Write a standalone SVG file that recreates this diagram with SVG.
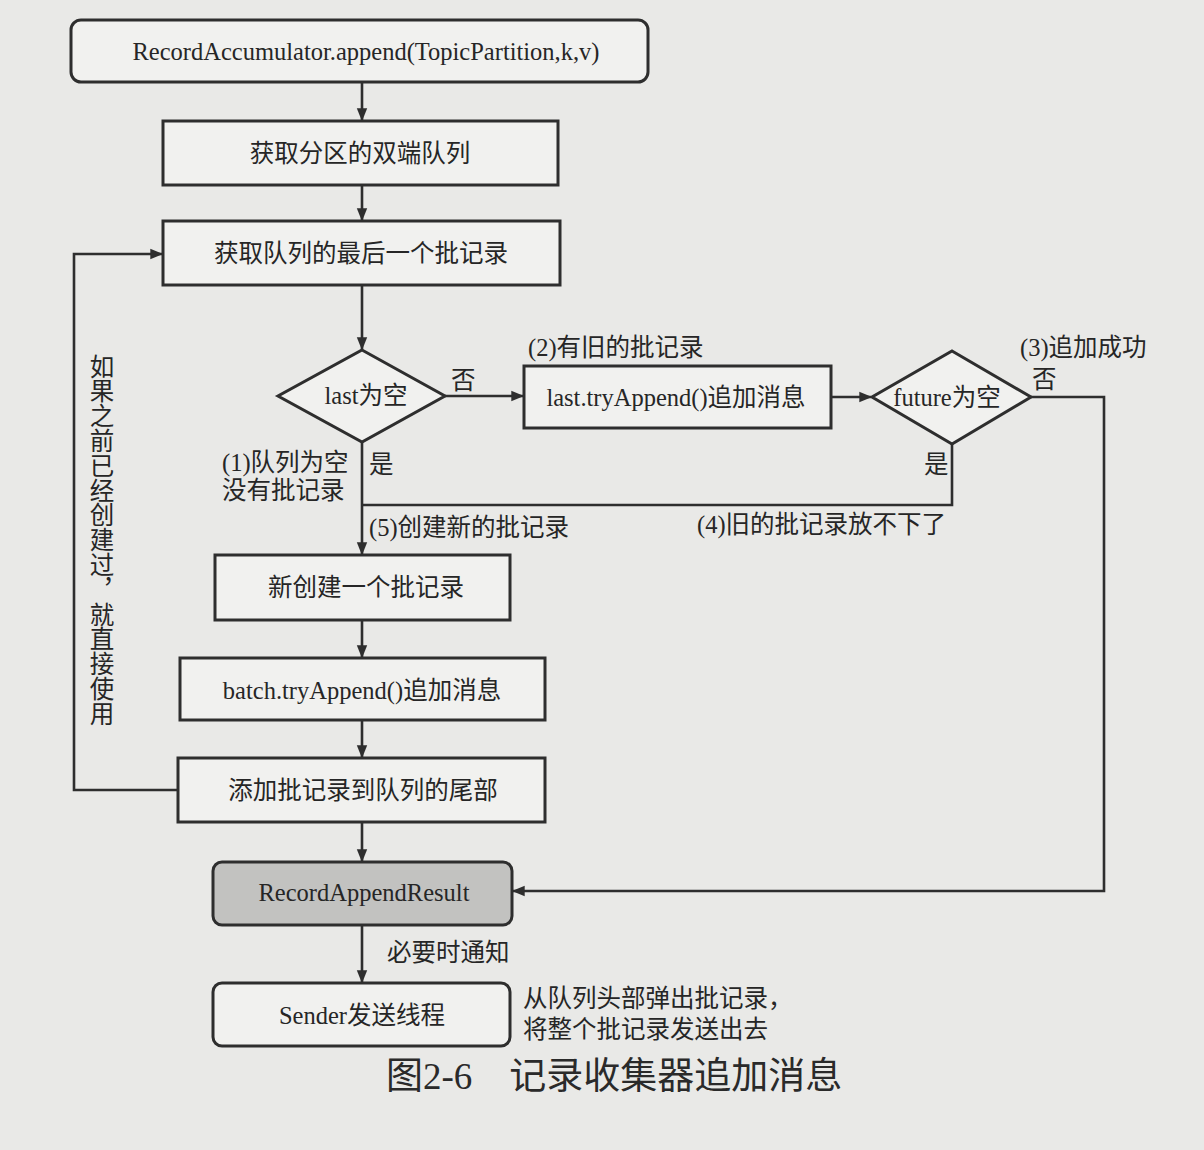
<svg xmlns="http://www.w3.org/2000/svg" width="1204" height="1150" viewBox="0 0 1204 1150">
<defs>
<style>
.bg{fill:#e9e9e7}
.box{fill:#f1f1ef;stroke:#2e2e2e;stroke-width:3}
.gray{fill:#c2c2c0;stroke:#2e2e2e;stroke-width:3}
.ln{fill:none;stroke:#2e2e2e;stroke-width:2.6}
.t{font-family:"Liberation Serif","Noto Sans CJK SC",serif;font-size:24.5px;fill:#262626;text-anchor:middle}
.l{font-family:"Liberation Serif","Noto Sans CJK SC",serif;font-size:24.5px;fill:#262626}
.cap{font-family:"Liberation Serif","Noto Sans CJK SC",serif;font-size:37px;fill:#2a2a2a}
</style>
<marker id="ah" viewBox="0 0 10 10" refX="9" refY="5" markerWidth="5" markerHeight="5" orient="auto">
<path d="M0,1 L10,5 L0,9 Z" fill="#2e2e2e"/>
</marker>
</defs>
<rect class="bg" x="0" y="0" width="1204" height="1150"/>

<g id="connectors">
<path class="ln" d="M362,82 V120" marker-end="url(#ah)"/>
<path class="ln" d="M362,185 V220" marker-end="url(#ah)"/>
<path class="ln" d="M362,285 V349" marker-end="url(#ah)"/>
<path class="ln" d="M362,442 V554" marker-end="url(#ah)"/>
<path class="ln" d="M445,396 H523" marker-end="url(#ah)"/>
<path class="ln" d="M831,397 H871" marker-end="url(#ah)"/>
<path class="ln" d="M1031,397 H1104 V891 H513" marker-end="url(#ah)"/>
<path class="ln" d="M952,444 V505 H362"/>
<path class="ln" d="M362,620 V657" marker-end="url(#ah)"/>
<path class="ln" d="M362,720 V757" marker-end="url(#ah)"/>
<path class="ln" d="M362,822 V861" marker-end="url(#ah)"/>
<path class="ln" d="M362,925 V982" marker-end="url(#ah)"/>
<path class="ln" d="M178,790 H74 V254 H162" marker-end="url(#ah)"/>
<text class="l" x="451" y="389">否</text>
<text class="l" x="528" y="356">(2)有旧的批记录</text>
<text class="l" x="1020" y="356">(3)追加成功</text>
<text class="l" x="1032" y="388">否</text>
<text class="l" x="924" y="473">是</text>
<text class="l" x="697" y="533">(4)旧的批记录放不下了</text>
<text class="l" x="222" y="471">(1)队列为空</text>
<text class="l" x="222" y="499">没有批记录</text>
<text class="l" x="369" y="473">是</text>
<text class="l" x="369" y="536">(5)创建新的批记录</text>
<text class="l" x="387" y="961">必要时通知</text>
<text class="l" x="100" y="354" style="writing-mode:vertical-rl;text-orientation:upright;letter-spacing:0.3px" text-anchor="start">如果之前已经创建过，就直接使用</text>
</g>

<g id="start">
<rect class="box" x="71" y="20" width="577" height="62" rx="10"/>
<text class="t" x="366" y="60">RecordAccumulator.append(TopicPartition,k,v)</text>
</g>
<g id="getDeque">
<rect class="box" x="163" y="121" width="395" height="64"/>
<text class="t" x="360" y="162">获取分区的双端队列</text>
</g>
<g id="getLast">
<rect class="box" x="163" y="221" width="397" height="64"/>
<text class="t" x="361" y="262">获取队列的最后一个批记录</text>
</g>
<g id="lastEmpty">
<polygon class="box" points="362,350 445,396 362,442 278,396"/>
<text class="t" x="366" y="404">last为空</text>
</g>
<g id="lastTryAppend">
<rect class="box" x="524" y="366" width="307" height="62"/>
<text class="t" x="676" y="406">last.tryAppend()追加消息</text>
</g>
<g id="futureEmpty">
<polygon class="box" points="952,351 1031,397 952,444 872,397"/>
<text class="t" x="947" y="406">future为空</text>
</g>
<g id="newBatch">
<rect class="box" x="215" y="555" width="295" height="65"/>
<text class="t" x="366" y="596">新创建一个批记录</text>
</g>
<g id="batchTryAppend">
<rect class="box" x="180" y="658" width="365" height="62"/>
<text class="t" x="362" y="699">batch.tryAppend()追加消息</text>
</g>
<g id="addTail">
<rect class="box" x="178" y="758" width="367" height="64"/>
<text class="t" x="363" y="799">添加批记录到队列的尾部</text>
</g>
<g id="result">
<rect class="gray" x="213" y="862" width="299" height="63" rx="9"/>
<text class="t" x="364" y="901">RecordAppendResult</text>
</g>
<g id="sender">
<rect class="box" x="213" y="983" width="297" height="63" rx="9"/>
<text class="t" x="362" y="1024">Sender发送线程</text>
<text class="l" x="523" y="1007">从队列头部弹出批记录，</text>
<text class="l" x="523" y="1038">将整个批记录发送出去</text>
</g>
<text class="cap" x="386" y="1089">图2-6　记录收集器追加消息</text>
</svg>
